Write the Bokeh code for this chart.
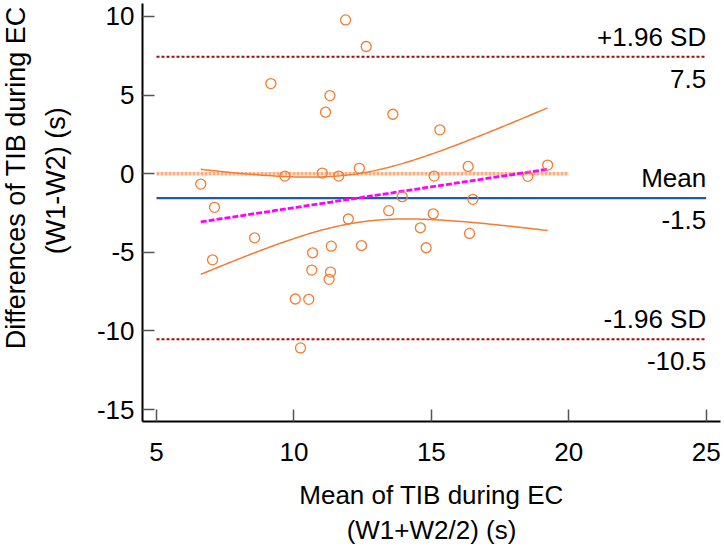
import numpy as np
from bokeh.plotting import figure
from bokeh.layouts import row
from bokeh.models import Range1d, ColumnDataSource, FixedTicker
from bokeh.core.properties import value
from bokeh.embed import file_html
from bokeh.resources import INLINE

# ---- data ----
mean_tib = [11.88, 12.63, 9.16, 11.31, 11.15, 13.60, 15.31, 6.61, 9.67, 11.03,
            11.63, 12.38, 15.10, 16.34, 19.23, 18.51, 7.11, 13.94, 16.51, 11.98,
            13.45, 15.07, 14.60, 16.39, 8.57, 7.04, 10.68, 11.36, 12.46, 14.81,
            10.65, 11.33, 11.28, 10.05, 10.54, 10.24]
diff_tib = [9.78, 8.09, 5.73, 4.97, 3.91, 3.78, 2.79, -0.66, -0.15, 0.04,
            -0.15, 0.34, -0.15, 0.46, 0.55, -0.17, -2.14, -1.46, -1.63, -2.88,
            -2.35, -2.55, -3.44, -3.80, -4.08, -5.48, -5.03, -4.61, -4.57, -4.71,
            -6.13, -6.26, -6.72, -7.97, -7.99, -11.08]

x_ticks = [5, 10, 15, 20, 25]
x_tick_labels = ["5", "10", "15", "20", "25"]
y_ticks = [-15, -10, -5, 0, 5, 10]
y_tick_labels = ["-15", "-10", "-5", "0", "5", "10"]
y_title_lines = ["Differences of TIB during EC", "(W1-W2) (s)"]
x_title = "Mean of TIB during EC\n(W1+W2/2) (s)"
line_names = ["+1.96 SD", "Mean", "-1.96 SD"]
line_values = ["7.5", "-1.5", "-10.5"]
equality_x = [5, 20]
ref_x = [5, 25]
t_crit = 2.032  # t(0.975, df=34)

FONT = "Liberation Sans"

# ---- layout (pixels) ----
W, H = 724, 547
LW = 84                      # width of the strip that carries the y title
FL, FR, FT, FB = 142, 720, 3, 422
X0, X1 = 4.4906, 25.52
Y0, Y1 = -15.761, 10.825
YT_X = [15, 55]              # centre column of each y-title line
YT_Y = [228, 232]            # placement of each y-title line in the strip

# ---- y-title strip ----
t = figure(width=LW, height=H, x_range=Range1d(0, LW), y_range=Range1d(H, 0),
           output_backend="svg", toolbar_location=None,
           x_axis_type=None, y_axis_type=None,
           min_border_left=0, min_border_right=0, min_border_top=0,
           min_border_bottom=0)
t.outline_line_color = None
t.grid.visible = False
t.background_fill_color = "white"
t.border_fill_color = "white"
t.text(x=YT_X, y=YT_Y, text=y_title_lines, angle=np.pi / 2,
       text_align="center", text_baseline="middle", text_font=value(FONT),
       text_font_size="27px", text_color="black")

# ---- main plot ----
p = figure(width=W - LW, height=H, x_range=Range1d(X0, X1), y_range=Range1d(Y0, Y1),
           output_backend="svg", toolbar_location=None,
           min_border_left=FL - LW, min_border_right=W - FR, min_border_top=FT,
           min_border_bottom=H - FB)
p.outline_line_color = None
p.xgrid.visible = False
p.ygrid.visible = False
p.background_fill_color = "white"
p.border_fill_color = "white"

for ax in (p.xaxis[0], p.yaxis[0]):
    ax.axis_line_color = "black"
    ax.axis_line_width = 2
    ax.major_tick_in = 12
    ax.major_tick_out = 0
    ax.major_tick_line_color = "#555555"
    ax.major_tick_line_width = 1.5
    ax.minor_tick_line_color = None
    ax.major_label_text_font = FONT
    ax.major_label_text_font_size = "26px"
    ax.major_label_text_color = "black"

p.xaxis[0].ticker = FixedTicker(ticks=x_ticks)
p.yaxis[0].ticker = FixedTicker(ticks=y_ticks)
p.xaxis[0].major_label_overrides = dict(zip(x_ticks, x_tick_labels))
p.yaxis[0].major_label_overrides = dict(zip(y_ticks, y_tick_labels))
p.yaxis[0].major_label_standoff = 8
p.xaxis[0].major_label_standoff = 21

p.xaxis[0].axis_label = x_title
p.xaxis[0].axis_label_text_font = FONT
p.xaxis[0].axis_label_text_font_size = "26px"
p.xaxis[0].axis_label_text_font_style = "normal"
p.xaxis[0].axis_label_text_color = "black"
p.xaxis[0].axis_label_text_line_height = 1.18
p.xaxis[0].axis_label_standoff = 16

# ---- statistics from the data ----
x = np.array(mean_tib)
y = np.array(diff_tib)
n = len(x)
m = y.mean()
sd = y.std(ddof=1)
upper = m + 1.96 * sd
lower = m - 1.96 * sd

b, a = np.polyfit(x, y, 1)
xs = np.linspace(x.min(), x.max(), 200)
fit = a + b * xs
resid = y - (a + b * x)
s = np.sqrt((resid ** 2).sum() / (n - 2))
sxx = ((x - x.mean()) ** 2).sum()
half = t_crit * s * np.sqrt(1.0 / n + (xs - x.mean()) ** 2 / sxx)

# line of equality
p.line(equality_x, [0, 0], line_color="#f7ae80", line_width=3.5, line_dash="3 1")
# limits of agreement
p.line(ref_x, [upper, upper], line_color="#a50d0d", line_width=2, line_dash="3 2")
p.line(ref_x, [lower, lower], line_color="#a50d0d", line_width=2, line_dash="3 2")
# mean
p.line(ref_x, [m, m], line_color="#1f5aa6", line_width=2.2)
# regression line + CI
p.line(xs, fit, line_color="#ff00ff", line_width=2.8, line_dash="6 2")
p.line(xs, fit + half, line_color="#f47c30", line_width=1.5)
p.line(xs, fit - half, line_color="#f47c30", line_width=1.5)

p.scatter(mean_tib, diff_tib, marker="circle", size=10, fill_color=None,
          line_color="#f47c30", line_width=1.3)

# right-hand labels
levels = [upper, m, lower]
src_top = ColumnDataSource(dict(x=[ref_x[1]] * 3, y=levels, text=line_names))
src_bot = ColumnDataSource(dict(x=[ref_x[1]] * 3, y=levels, text=line_values))
p.text(x="x", y="y", text="text", source=src_top, text_align="right",
       text_baseline="alphabetic", y_offset=-20, text_font=value(FONT),
       text_font_size="26px", text_color="black")
p.text(x="x", y="y", text="text", source=src_bot, text_align="right",
       text_baseline="alphabetic", y_offset=22, text_font=value(FONT),
       text_font_size="26px", text_color="black")

layout = row(t, p, spacing=0)
open("out.html", "w").write(file_html(layout, INLINE))
